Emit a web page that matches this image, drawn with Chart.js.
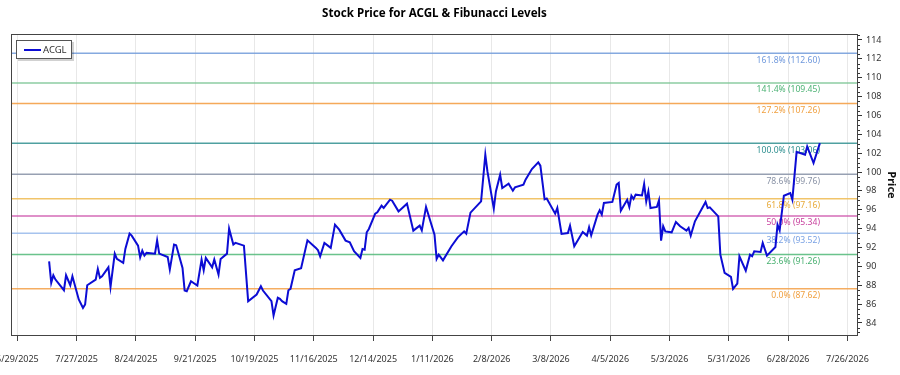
<!DOCTYPE html>
<html><head><meta charset="utf-8">
<script src="https://cdn.jsdelivr.net/npm/chart.js@4.4.1/dist/chart.umd.min.js"></script>
<style>html,body{margin:0;padding:0;background:#fff;}#wrap{width:900px;height:375px;}</style>
</head><body><div id="wrap"><canvas id="c" width="900" height="375"></canvas></div>
<script>
const seriesName = 'ACGL';
const dates = ['2025-07-14','2025-07-15','2025-07-16','2025-07-17','2025-07-21','2025-07-22','2025-07-24','2025-07-25','2025-07-28','2025-07-30','2025-07-31','2025-08-01','2025-08-05','2025-08-06','2025-08-07','2025-08-08','2025-08-11','2025-08-12','2025-08-14','2025-08-15','2025-08-18','2025-08-19','2025-08-21','2025-08-22','2025-08-25','2025-08-26','2025-08-27','2025-08-28','2025-08-29','2025-09-02','2025-09-03','2025-09-04','2025-09-08','2025-09-09','2025-09-11','2025-09-12','2025-09-15','2025-09-16','2025-09-17','2025-09-19','2025-09-22','2025-09-24','2025-09-25','2025-09-26','2025-09-29','2025-09-30','2025-10-02','2025-10-03','2025-10-06','2025-10-07','2025-10-09','2025-10-10','2025-10-14','2025-10-16','2025-10-20','2025-10-22','2025-10-23','2025-10-27','2025-10-28','2025-10-30','2025-10-31','2025-11-01','2025-11-03','2025-11-04','2025-11-05','2025-11-07','2025-11-10','2025-11-13','2025-11-17','2025-11-18','2025-11-19','2025-11-21','2025-11-24','2025-11-26','2025-11-28','2025-12-01','2025-12-03','2025-12-05','2025-12-08','2025-12-09','2025-12-10','2025-12-11','2025-12-12','2025-12-15','2025-12-16','2025-12-18','2025-12-19','2025-12-22','2025-12-23','2025-12-26','2025-12-30','2026-01-02','2026-01-05','2026-01-06','2026-01-08','2026-01-12','2026-01-13','2026-01-14','2026-01-16','2026-01-20','2026-01-23','2026-01-26','2026-01-27','2026-01-29','2026-02-02','2026-02-03','2026-02-05','2026-02-06','2026-02-09','2026-02-10','2026-02-12','2026-02-13','2026-02-16','2026-02-18','2026-02-19','2026-02-23','2026-02-24','2026-02-27','2026-03-02','2026-03-03','2026-03-05','2026-03-06','2026-03-10','2026-03-11','2026-03-13','2026-03-16','2026-03-17','2026-03-19','2026-03-23','2026-03-25','2026-03-26','2026-03-27','2026-03-30','2026-03-31','2026-04-01','2026-04-02','2026-04-06','2026-04-08','2026-04-09','2026-04-10','2026-04-13','2026-04-14','2026-04-15','2026-04-16','2026-04-17','2026-04-20','2026-04-21','2026-04-22','2026-04-23','2026-04-24','2026-04-27','2026-04-28','2026-04-29','2026-04-30','2026-05-01','2026-05-04','2026-05-06','2026-05-08','2026-05-11','2026-05-12','2026-05-13','2026-05-15','2026-05-20','2026-05-21','2026-05-22','2026-05-26','2026-05-27','2026-05-29','2026-06-01','2026-06-02','2026-06-04','2026-06-05','2026-06-08','2026-06-10','2026-06-11','2026-06-12','2026-06-15','2026-06-16','2026-06-18','2026-06-22','2026-06-23','2026-06-24','2026-06-26','2026-06-29','2026-06-30','2026-07-02','2026-07-03','2026-07-06','2026-07-07','2026-07-10','2026-07-13'];
const prices = [90.54,88.25,89.06,88.60,87.47,89.06,88.00,88.95,86.50,85.60,85.96,88.00,88.60,89.73,88.78,88.95,89.90,87.83,91.35,90.79,90.37,91.85,93.47,93.26,92.20,90.96,91.67,91.14,91.43,91.35,92.76,91.35,91.00,89.66,92.31,92.24,89.84,87.44,87.37,88.42,87.97,90.72,89.59,90.90,89.90,90.72,89.13,90.79,91.35,94.00,92.31,92.49,92.20,86.31,87.02,87.90,87.44,86.31,84.79,86.67,86.56,86.31,86.03,87.47,87.62,89.59,89.80,92.76,91.96,91.70,91.07,92.49,91.96,94.42,93.89,92.73,92.55,91.60,90.90,91.85,91.78,93.61,93.97,95.59,95.73,96.43,96.19,97.07,96.96,95.83,96.65,93.79,94.32,93.82,96.30,93.37,90.79,91.24,90.64,92.13,93.08,93.71,93.47,95.70,96.65,96.89,101.83,100.07,96.12,97.95,99.71,98.31,98.76,98.02,98.37,98.66,99.19,100.32,101.02,100.67,97.10,97.20,95.59,96.19,93.44,93.54,94.32,92.13,93.65,93.26,94.14,93.29,95.48,95.94,95.48,96.72,96.83,98.66,98.84,95.90,97.07,96.30,97.49,97.14,97.60,97.52,98.73,96.89,97.95,96.19,96.30,97.00,92.73,94.25,93.71,93.61,94.71,94.25,93.79,94.07,93.26,94.78,96.83,96.19,96.26,95.30,91.24,89.31,88.89,87.62,88.18,91.07,89.55,91.24,91.07,91.60,91.53,92.49,91.14,92.06,94.42,93.82,97.49,97.78,97.07,102.12,102.07,101.83,102.71,100.95,103.06];

const fibLabels = ['0.0%','23.6%','38.2%','50.0%','61.8%','78.6%','100.0%','127.2%','141.4%','161.8%'];
const fibValues = [87.62,91.26,93.52,95.34,97.16,99.76,103.06,107.26,109.45,112.60];
const fibLineColors = ['rgba(244,164,80,0.9)','rgba(80,185,120,0.85)','rgba(150,185,235,0.85)','rgba(205,80,170,0.85)','rgba(240,190,90,0.9)','rgba(140,150,170,0.9)','rgba(60,150,150,0.9)','rgba(244,164,80,0.95)','rgba(120,195,145,0.85)','rgba(120,160,220,0.9)'];
const fibTextColors = ['#f0a040','#48b070','#7aa2e4','#c8409e','#e8aa38','#8a93a6','#2f9090','#f0a040','#4cb274','#6f98dc'];

const xTickDates = ['2025-06-29','2025-07-27','2025-08-24','2025-09-21','2025-10-19','2025-11-16','2025-12-14','2026-01-11','2026-02-08','2026-03-08','2026-04-05','2026-05-03','2026-05-31','2026-06-28','2026-07-26'];
const xTickLabels = ['6/29/2025','7/27/2025','8/24/2025','9/21/2025','10/19/2025','11/16/2025','12/14/2025','1/11/2026','2/8/2026','3/8/2026','4/5/2026','5/3/2026','5/31/2026','6/28/2026','7/26/2026'];
const xRange = ['2025-06-26','2026-07-31'];
const yTicks = [84,86,88,90,92,94,96,98,100,102,104,106,108,110,112,114];
const yRange = [82.62,114.63];

const FONT = 'Noto Sans';
const toDay = s => { const [y,m,d] = s.split('-').map(Number); return Date.UTC(y,m-1,d)/86400000; };
const xMin = toDay(xRange[0]), xMax = toDay(xRange[1]);

const datasets = [{
  label: seriesName,
  data: dates.map((d,i)=>({x: toDay(d), y: prices[i]})),
  borderColor: '#0c0cd4', borderWidth: 2, pointRadius: 0, tension: 0, order: 0, fill: false
}];
fibValues.forEach((v,i)=>{
  datasets.push({label: fibLabels[i], data:[{x:xMin,y:v},{x:xMax,y:v}], borderColor: fibLineColors[i], borderWidth: 1.5, pointRadius: 0, order: 1, fill:false});
});

const decor = {
  id: 'decor',
  beforeDatasetDraw(chart, args) {
    if (args.index !== 0) return;
    const ctx = chart.ctx, y = chart.scales.y;
    ctx.save();
    ctx.font = '8.6px "' + FONT + '"';
    ctx.textAlign = 'right'; ctx.textBaseline = 'middle';
    fibValues.forEach((v,i)=>{
      ctx.fillStyle = fibTextColors[i];
      ctx.fillText(fibLabels[i] + ' (' + v.toFixed(2) + ')', 820, y.getPixelForValue(v) + 7);
    });
    ctx.restore();
  },
  afterDraw(chart) {
    const ctx = chart.ctx, a = chart.chartArea, y = chart.scales.y;
    ctx.save();
    ctx.strokeStyle = '#444'; ctx.lineWidth = 1;
    ctx.strokeRect(Math.round(a.left)+0.5, Math.round(a.top)+0.5, Math.round(a.right-a.left)-1, Math.round(a.bottom-a.top)-1);
    ctx.strokeStyle = '#333';
    ctx.beginPath();
    for (let v = Math.ceil(yRange[0]*2)/2; v <= yRange[1]; v += 0.5) {
      if (Math.abs(v % 2) < 1e-6) continue;
      const py = Math.round(y.getPixelForValue(v)) + 0.5;
      ctx.moveTo(a.right, py); ctx.lineTo(a.right + 2, py);
    }
    ctx.stroke();
    const lx = 16, ly = 40, lw = 56, lh = 19;
    ctx.fillStyle = 'rgba(0,0,0,0.18)';
    ctx.fillRect(lx+2, ly+2, lw, lh);
    ctx.fillStyle = '#fff'; ctx.fillRect(lx, ly, lw, lh);
    ctx.strokeStyle = '#555'; ctx.strokeRect(lx+0.5, ly+0.5, lw-1, lh-1);
    ctx.strokeStyle = datasets[0].borderColor; ctx.lineWidth = 2;
    ctx.beginPath(); ctx.moveTo(lx+8, ly+10); ctx.lineTo(lx+25, ly+10); ctx.stroke();
    ctx.fillStyle = '#333'; ctx.font = '9.5px "' + FONT + '"';
    ctx.textAlign = 'left'; ctx.textBaseline = 'middle';
    ctx.fillText(seriesName, lx+27, ly+10);
    ctx.restore();
  }
};

new Chart(document.getElementById('c'), {
  type: 'line',
  data: { datasets },
  plugins: [decor],
  options: {
    responsive: false, animation: false, devicePixelRatio: 1,
    layout: { padding: { left: 11, right: 0, top: 0, bottom: 0 } },
    plugins: {
      legend: { display: false }, tooltip: { enabled: false },
      title: { display: true, text: 'Stock Price for ' + seriesName + ' & Fibunacci Levels', fullSize: false,
        font: { family: FONT, size: 11.6, weight: 'bold' }, color: '#000', padding: { top: 7, bottom: 13.1 } }
    },
    scales: {
      x: {
        type: 'linear', min: xMin, max: xMax, position: 'bottom',
        afterBuildTicks: s => { s.ticks = xTickDates.map(d => ({ value: toDay(d) })); },
        afterFit: s => { s.height = 39; s.paddingLeft = 0; s.paddingRight = 0; },
        ticks: { autoSkip: false, maxRotation: 0, minRotation: 0, padding: 13, color: '#333',
          font: { family: FONT, size: 9 }, callback: (v, i) => xTickLabels[i] },
        grid: { color: '#e8e8e8', lineWidth: 1, tickLength: 5, tickColor: '#444', drawTicks: true },
        border: { display: false }
      },
      y: {
        type: 'linear', position: 'right', min: yRange[0], max: yRange[1],
        afterBuildTicks: s => { s.ticks = yTicks.map(v => ({ value: v })); },
        afterFit: s => { s.width = 42; s.paddingTop = 0; s.paddingBottom = 0; },
        ticks: { padding: 4, color: '#333', font: { family: FONT, size: 9 }, callback: v => String(v) },
        grid: { drawOnChartArea: false, tickLength: 4, tickColor: '#333' },
        border: { display: false },
        title: { display: true, text: 'Price', color: '#111', font: { family: FONT, size: 11, weight: 'bold' }, padding: { top: 2, bottom: 0 } }
      }
    }
  }
});
</script></body></html>
